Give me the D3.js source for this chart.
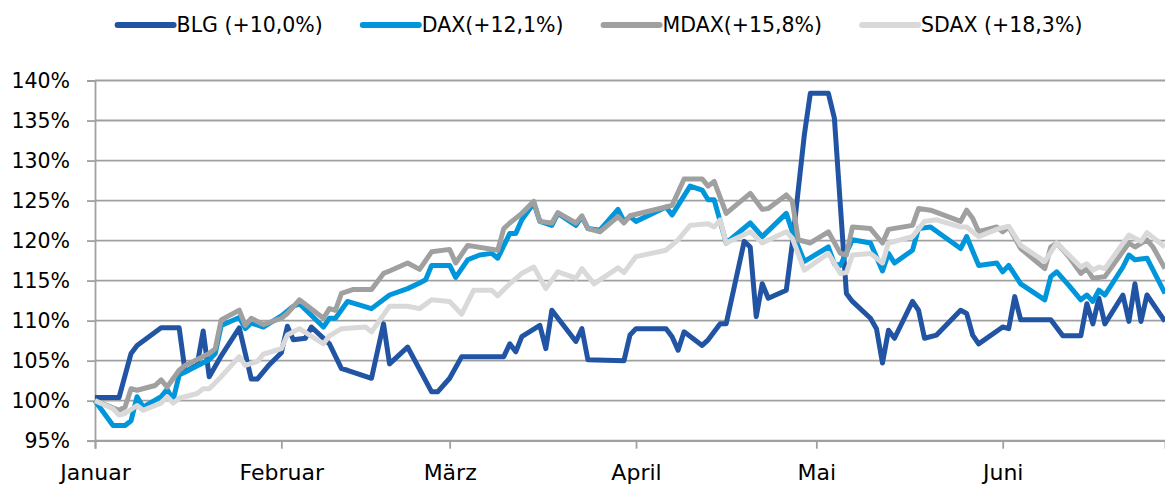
<!DOCTYPE html>
<html>
<head>
<meta charset="utf-8">
<script src="https://cdn.jsdelivr.net/npm/d3@7"></script>
<style>
  body { margin: 0; background: #fff; }
  text { font-family: "DejaVu Sans", sans-serif; fill: #000; }
</style>
</head>
<body>
<svg width="1165" height="486"></svg>
<script>
// days counted from 1 January, values in % of the start value
var monthDays = [0, 31, 59, 90, 120, 151];
var monthNames = ["Januar", "Februar", "März", "April", "Mai", "Juni"];
var yTicks = [95, 100, 105, 110, 115, 120, 125, 130, 135, 140];
var seriesNames = ["BLG (+10,0%)", "DAX(+12,1%)", "MDAX(+15,8%)", "SDAX (+18,3%)"];
var seriesColors = ["#2254a4", "#0096db", "#a0a0a0", "#d9d9d9"];

var blg = [[0,100.4],[4,100.4],[6,105.9],[7,106.9],[11,109.1],[14,109.1],[15,103.6],[17,104.5],[18,108.7],[19,103.0],
  [21,105.6],[24,109.1],[26,102.7],[27,102.7],[29,104.5],[31,106.0],[32,109.3],[33,107.6],[35,107.8],[36,109.2],
  [39,107.1],[41,104.0],[42,103.8],[46,102.8],[48,109.6],[49,104.6],[52,106.7],[56,101.1],[57,101.1],[59,102.8],
  [61,105.5],[68,105.5],[69,107.1],[70,106.1],[71,108.0],[74,109.4],[75,106.5],[76,111.3],[80,107.4],[81,109.0],
  [82,105.1],[88,105.0],[89,108.2],[90,109.0],[95,109.0],[96,108.0],[97,106.3],[98,108.6],[101,106.9],[102,107.6],
  [104,109.6],[105,109.6],[108,119.9],[109,119.2],[110,110.5],[111,114.6],[112,112.8],[115,113.8],[116,119.6],[118,133.2],
  [119,138.4],[122,138.4],[123,135.3],[125,113.4],[126,112.4],[129,110.3],[130,109.0],[131,104.7],[132,108.8],[133,107.8],
  [136,112.4],[137,111.3],[138,107.8],[140,108.2],[144,111.3],[145,110.9],[146,108.2],[147,107.1],[151,109.2],[152,109.0],
  [153,113.0],[154,110.1],[159,110.1],[161,108.1],[164,108.1],[165,112.1],[166,109.6],[167,112.8],[168,109.6],[171,113.2],
  [172,109.9],[173,114.6],[174,109.9],[175,113.2],[178,109.9]];

var dax = [[0,100.0],[3,96.9],[5,96.9],[6,97.5],[7,100.5],[8,99.2],[11,100.5],[12,101.4],[13,100.1],[14,103.2],
  [19,105.1],[20,105.9],[21,109.4],[24,110.4],[25,109.0],[26,109.7],[28,109.2],[31,110.6],[33,111.8],[34,112.1],
  [38,109.2],[39,110.3],[40,110.3],[42,112.4],[46,111.5],[49,113.2],[52,114.0],[54,114.7],[55,115.1],[56,116.9],
  [59,116.9],[60,115.4],[62,117.6],[64,118.2],[66,118.4],[67,117.8],[69,120.9],[70,120.9],[71,122.6],[73,124.7],
  [74,122.4],[76,121.9],[77,123.4],[80,121.9],[81,123.0],[82,121.5],[84,121.3],[87,123.9],[88,122.4],[89,123.0],
  [90,122.4],[95,124.2],[96,123.2],[97,124.4],[99,126.8],[101,126.3],[102,125.1],[103,125.1],[105,119.7],[109,122.2],
  [111,120.5],[115,123.4],[116,121.1],[118,117.4],[122,119.2],[123,117.1],[124,116.9],[126,120.1],[129,119.7],[131,116.2],
  [132,118.4],[133,117.2],[136,118.8],[137,121.5],[139,121.7],[144,119.0],[145,120.5],[147,116.9],[150,117.2],[151,116.1],
  [152,116.9],[154,114.6],[158,112.6],[159,115.5],[160,116.1],[162,114.4],[164,112.6],[165,113.2],[166,112.4],[167,113.8],
  [168,113.2],[171,116.7],[172,118.2],[173,117.6],[175,117.8],[178,113.4]];

var mdax = [[0,100.0],[4,98.8],[5,99.2],[6,101.5],[7,101.3],[10,101.9],[11,102.6],[12,101.7],[14,103.8],[15,104.4],
  [19,105.9],[20,106.5],[21,110.1],[24,111.3],[25,109.4],[26,110.3],[28,109.5],[31,110.3],[32,110.9],[34,112.6],
  [38,110.3],[39,111.5],[40,111.3],[41,113.4],[43,113.9],[46,113.9],[48,115.9],[49,116.2],[52,117.2],[54,116.4],
  [56,118.6],[59,118.9],[60,117.2],[62,119.4],[67,118.8],[68,121.5],[69,122.2],[71,123.4],[73,124.9],[74,122.4],
  [76,122.2],[77,123.5],[80,122.2],[81,123.1],[82,121.5],[84,121.1],[87,123.0],[88,122.2],[89,123.1],[95,124.2],
  [96,124.4],[98,127.7],[101,127.7],[102,126.8],[103,127.4],[105,123.4],[109,125.9],[111,123.9],[112,124.0],[115,125.7],
  [116,124.9],[117,120.1],[119,119.7],[122,121.1],[124,118.4],[125,118.2],[126,121.7],[129,121.5],[131,119.7],[132,121.4],
  [136,121.9],[137,124.0],[139,123.8],[144,122.4],[145,123.8],[146,122.8],[147,121.1],[150,121.7],[151,121.1],[152,121.7],
  [154,119.0],[158,116.5],[159,119.2],[160,119.7],[162,118.0],[164,115.9],[165,116.5],[166,115.3],[168,115.5],[172,119.7],
  [173,119.2],[175,120.1],[176,119.2],[178,116.5]];

var sdax = [[0,100.0],[3,99.0],[4,98.2],[5,98.4],[7,99.4],[8,98.8],[11,99.7],[12,100.5],[13,99.7],[14,100.3],
  [17,100.9],[18,101.5],[19,101.5],[21,103.0],[24,105.5],[25,104.4],[27,104.9],[28,105.8],[31,106.5],[32,108.2],
  [34,109.0],[38,107.1],[39,108.1],[41,109.0],[45,109.2],[46,108.6],[49,111.8],[52,111.8],[54,111.5],[56,112.6],
  [59,112.4],[61,110.8],[63,113.8],[66,113.8],[67,113.1],[69,114.6],[71,115.9],[73,116.7],[75,114.0],[77,116.1],
  [80,115.3],[81,116.5],[83,114.6],[87,116.6],[88,116.0],[90,118.0],[95,118.8],[97,120.1],[99,121.9],[102,122.1],
  [103,121.7],[104,122.6],[105,119.7],[109,121.1],[111,119.7],[115,121.1],[116,120.3],[118,116.3],[122,118.4],[124,115.9],
  [125,116.0],[126,118.2],[129,118.4],[131,117.2],[132,119.7],[136,120.5],[138,122.4],[140,122.6],[144,121.7],[145,121.7],
  [147,120.5],[150,121.4],[152,121.8],[154,119.4],[158,117.4],[160,119.7],[162,118.2],[164,116.7],[165,117.1],[166,116.3],
  [167,116.7],[168,116.5],[172,120.7],[174,119.9],[175,121.0],[178,119.2]];

var allSeries = [blg, dax, mdax, sdax];

var plotLeft = 95, plotRight = 1165, plotTop = 80.5, plotBottom = 440.7;

var svg = d3.select("svg");

var x = d3.scaleLinear().domain([0, 178]).range([plotLeft, plotRight]);
var y = d3.scaleLinear().domain([95, 140]).range([plotBottom, plotTop]);

// horizontal gridlines
svg.append("g")
  .selectAll("line")
  .data(yTicks)
  .enter()
  .append("line")
  .attr("x1", plotLeft)
  .attr("x2", plotRight)
  .attr("y1", function(d){ return y(d); })
  .attr("y2", function(d){ return y(d); })
  .attr("stroke", "#a0a0a0")
  .attr("stroke-width", 1.8);

// y axis
var yAxis = svg.append("g")
  .attr("transform", "translate(" + plotLeft + ",0)")
  .call(d3.axisLeft(y).tickValues(yTicks).tickSize(8).tickPadding(17)
    .tickFormat(function(d){ return d + "%"; }));
yAxis.select(".domain").attr("stroke", "#a0a0a0").attr("stroke-width", 1.8);
yAxis.selectAll(".tick line").attr("stroke", "#a0a0a0").attr("stroke-width", 1.8);
yAxis.selectAll("text").style("font-size", "20.5px");

// x axis
var xAxis = svg.append("g")
  .attr("transform", "translate(0," + plotBottom + ")")
  .call(d3.axisBottom(x).tickValues(monthDays).tickSize(8).tickPadding(16)
    .tickFormat(function(d, i){ return monthNames[i]; }));
xAxis.select(".domain").attr("stroke", "#a0a0a0").attr("stroke-width", 1.8);
xAxis.selectAll(".tick line").attr("stroke", "#a0a0a0").attr("stroke-width", 1.8);
xAxis.selectAll("text").style("font-size", "22px");

// lines
var line = d3.line()
  .x(function(d){ return x(d[0]); })
  .y(function(d){ return y(d[1]); });

svg.append("g")
  .selectAll("path")
  .data(allSeries)
  .enter()
  .append("path")
  .attr("d", line)
  .attr("fill", "none")
  .attr("stroke", function(d, i){ return seriesColors[i]; })
  .attr("stroke-width", 5)
  .attr("stroke-linejoin", "round");

// legend
var legend = svg.append("g");
var items = legend.selectAll("g")
  .data(seriesNames)
  .enter()
  .append("g");
items.append("line")
  .attr("x1", 0).attr("x2", 56)
  .attr("y1", 25).attr("y2", 25)
  .attr("stroke", function(d, i){ return seriesColors[i]; })
  .attr("stroke-width", 6)
  .attr("stroke-linecap", "round");
items.append("text")
  .attr("x", 59)
  .attr("y", 25)
  .attr("dy", "0.36em")
  .style("font-size", "20.5px")
  .text(function(d){ return d; });

var pos = 0;
items.each(function(){
  d3.select(this).attr("transform", "translate(" + pos + ",0)");
  pos += this.getBBox().width + 40;
});
var total = pos - 40;
legend.attr("transform", "translate(" + (600 - total / 2) + ",0)");
</script>
</body>
</html>
